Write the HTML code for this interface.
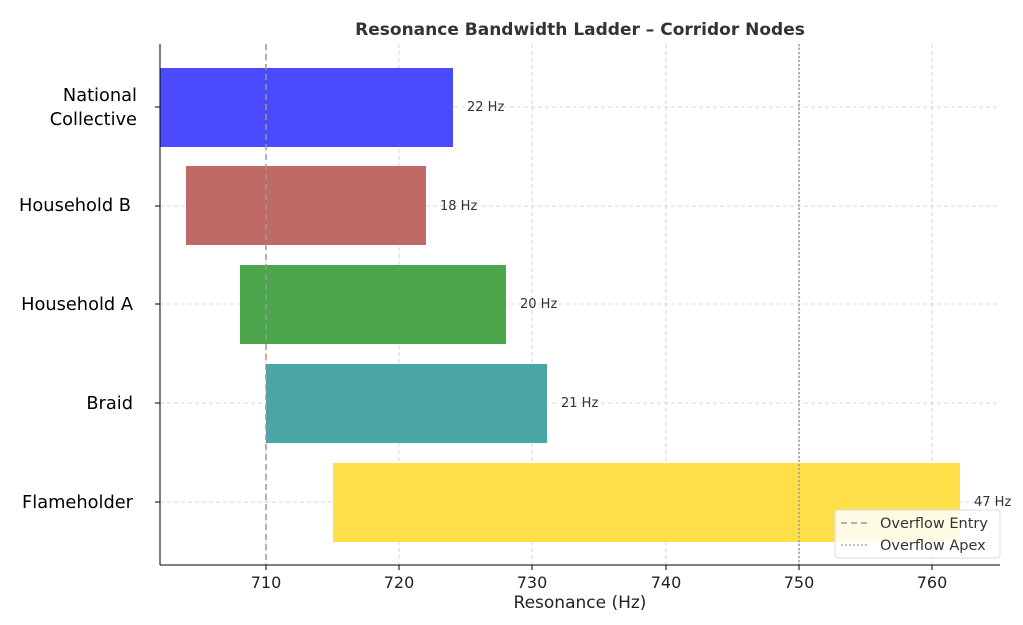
<!DOCTYPE html>
<html><head><meta charset="utf-8"><style>
body{margin:0;background:#fff;}
svg text{font-family:"DejaVu Sans","Liberation Sans",sans-serif;}
</style></head><body>
<svg width="1023" height="620" viewBox="0 0 1023 620" xmlns="http://www.w3.org/2000/svg">
<rect width="1023" height="620" fill="#fff"/>
<text x="580" y="35" font-size="17" font-weight="bold" fill="#333" text-anchor="middle">Resonance Bandwidth Ladder – Corridor Nodes</text>
<g stroke="#ccc" stroke-width="0.8" stroke-dasharray="4,3">
<line x1="266" y1="44" x2="266" y2="565"/><line x1="399" y1="44" x2="399" y2="565"/>
<line x1="532" y1="44" x2="532" y2="565"/><line x1="666" y1="44" x2="666" y2="565"/>
<line x1="799" y1="44" x2="799" y2="565"/><line x1="932" y1="44" x2="932" y2="565"/>
<line x1="160" y1="107" x2="1000" y2="107"/><line x1="160" y1="206" x2="1000" y2="206"/>
<line x1="160" y1="304" x2="1000" y2="304"/><line x1="160" y1="403" x2="1000" y2="403"/>
<line x1="160" y1="502" x2="1000" y2="502"/>
</g>
<rect x="160" y="68" width="293" height="79" fill="#4a4aff"/>
<rect x="186" y="166" width="240" height="79" fill="#c06a66"/>
<rect x="240" y="265" width="266" height="79" fill="#4ca64c"/>
<rect x="266" y="364" width="281" height="79" fill="#4aa6a6"/>
<rect x="333" y="463" width="627" height="79" fill="#ffe04a"/>
<g font-size="13" fill="#333">
<text x="467" y="111">22 Hz</text><text x="440" y="210">18 Hz</text>
<text x="520" y="308">20 Hz</text><text x="561" y="407">21 Hz</text>
<text x="974" y="506">47 Hz</text></g>
<line x1="266" y1="44" x2="266" y2="565" stroke="#999" stroke-width="1.5" stroke-dasharray="6,4"/>
<line x1="799" y1="44" x2="799" y2="565" stroke="#999" stroke-width="1.5" stroke-dasharray="2,2"/>
<line x1="160" y1="44" x2="160" y2="565" stroke="#000"/>
<line x1="160" y1="565" x2="1000" y2="565" stroke="#000"/>
<g stroke="#000"><line x1="266" y1="565" x2="266" y2="570"/><line x1="399" y1="565" x2="399" y2="570"/><line x1="532" y1="565" x2="532" y2="570"/><line x1="666" y1="565" x2="666" y2="570"/><line x1="799" y1="565" x2="799" y2="570"/><line x1="932" y1="565" x2="932" y2="570"/>
<line x1="155" y1="107" x2="160" y2="107"/><line x1="155" y1="206" x2="160" y2="206"/><line x1="155" y1="304" x2="160" y2="304"/><line x1="155" y1="403" x2="160" y2="403"/><line x1="155" y1="502" x2="160" y2="502"/></g>
<g font-size="16" fill="#222" text-anchor="middle">
<text x="266" y="588">710</text><text x="399" y="588">720</text><text x="532" y="588">730</text><text x="666" y="588">740</text><text x="799" y="588">750</text><text x="932" y="588">760</text></g>
<text x="580" y="608" font-size="17" fill="#222" text-anchor="middle">Resonance (Hz)</text>
<g font-size="17.8" fill="#000" text-anchor="end">
<text x="137" y="101">National</text><text x="137" y="125">Collective</text>
<text x="131" y="211">Household B</text><text x="133" y="310">Household A</text>
<text x="133" y="409">Braid</text><text x="133" y="508">Flameholder</text></g>
<rect x="835" y="510" width="165" height="48" rx="3" fill="#fff" fill-opacity="0.85" stroke="#ddd"/>
<line x1="841" y1="523" x2="869" y2="523" stroke="#999" stroke-width="1.5" stroke-dasharray="6,4"/>
<line x1="841" y1="545" x2="869" y2="545" stroke="#aab" stroke-width="1.5" stroke-dasharray="2,2"/>
<text x="880" y="528" font-size="14.5" fill="#333">Overflow Entry</text>
<text x="880" y="550" font-size="14.5" fill="#333">Overflow Apex</text>
</svg>
</body></html>
